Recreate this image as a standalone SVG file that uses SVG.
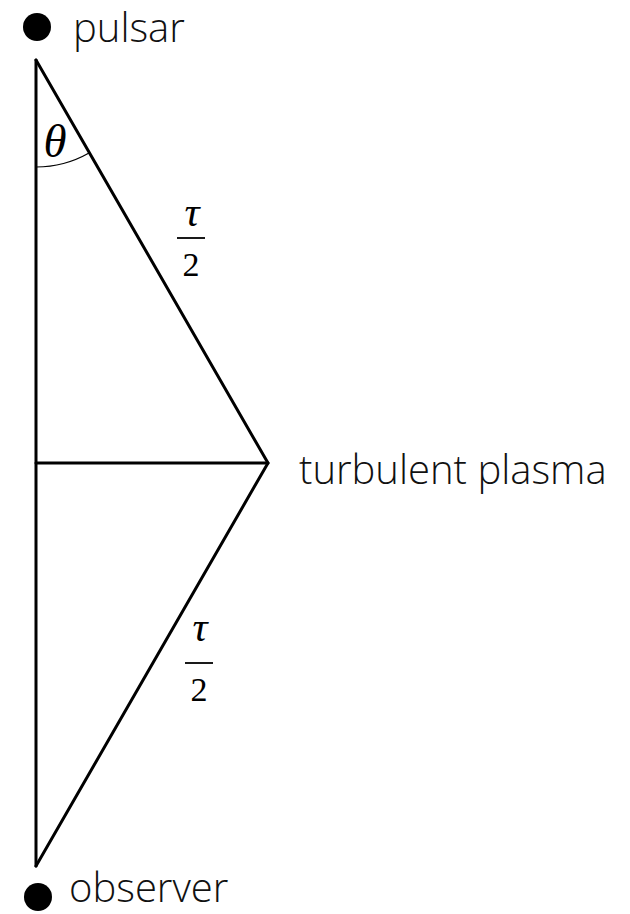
<svg xmlns="http://www.w3.org/2000/svg" width="630" height="914" viewBox="0 0 630 914">
<style>
.ln{stroke:#000;stroke-width:3;fill:none;stroke-linecap:round;stroke-linejoin:miter}
.lbl{font-family:"Open Sans","Liberation Sans",sans-serif;font-size:40px;font-weight:300;fill:#111}
.math{font-family:"Liberation Serif","DejaVu Serif",serif;fill:#000}
</style>
<rect width="630" height="914" fill="#fff"/>
<g id="connectors">
<polyline class="ln" points="36,60 36,866"/>
<polyline class="ln" points="36,60 268,463 36,866"/>
<line class="ln" x1="36" y1="463" x2="268" y2="463"/>
<path d="M36,167 A107,107 0 0 0 89,153" fill="none" stroke="#000" stroke-width="1.2"/>
</g>
<g id="pulsar">
<circle cx="37" cy="27" r="14" fill="#000"/>
<text class="lbl" x="73" y="42" font-size="39">pulsar</text>
</g>
<g id="observer">
<circle cx="38" cy="897" r="14" fill="#000"/>
<text class="lbl" x="69" y="902">observer</text>
</g>
<g id="plasma">
<text class="lbl" x="299" y="484" font-size="41.5">turbulent plasma</text>
</g>
<g id="theta">
<text class="math" x="55" y="157" font-size="47" font-style="italic" text-anchor="middle">θ</text>
</g>
<g id="tau-upper">
<text class="math" x="192" y="226" font-size="42" font-style="italic" text-anchor="middle">τ</text>
<line x1="177" y1="238" x2="205" y2="238" stroke="#000" stroke-width="1.8"/>
<text class="math" x="191" y="276" font-size="34" text-anchor="middle">2</text>
</g>
<g id="tau-lower">
<text class="math" x="200" y="641" font-size="42" font-style="italic" text-anchor="middle">τ</text>
<line x1="185" y1="663" x2="213" y2="663" stroke="#000" stroke-width="1.8"/>
<text class="math" x="199" y="701" font-size="34" text-anchor="middle">2</text>
</g>
</svg>
